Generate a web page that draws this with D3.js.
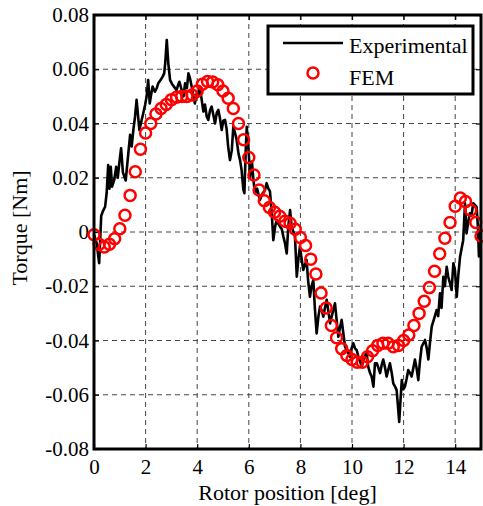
<!DOCTYPE html>
<html>
    <head>
        <meta charset="utf-8">
        <style>
            body { margin: 0; background: #fff; }
        </style>
    </head>
    <body>
        <svg width="483" height="506"></svg>
        <script src="https://d3js.org/d3.v7.min.js"></script>
        <script>
            // measured rotor torque (noisy trace)
            let expPos = [0.00, 0.10, 0.20, 0.28, 0.36, 0.43, 0.49, 0.55, 0.60, 0.65, 0.70, 0.78, 0.86, 0.92, 0.98,
                1.05, 1.12, 1.23, 1.33, 1.40, 1.46, 1.53, 1.59, 1.65, 1.76, 1.84, 1.91, 1.98, 2.04, 2.10, 2.16,
                2.22, 2.27, 2.36, 2.43, 2.49, 2.58, 2.66, 2.72, 2.76, 2.82, 2.88, 2.95, 3.03, 3.10, 3.20, 3.27,
                3.31, 3.40, 3.47, 3.53, 3.60, 3.66, 3.72, 3.80, 3.91, 3.98, 4.04, 4.10, 4.17, 4.24, 4.30, 4.37,
                4.43, 4.50, 4.56, 4.63, 4.69, 4.76, 4.82, 4.88, 4.95, 5.01, 5.08, 5.14, 5.20, 5.27, 5.34, 5.40,
                5.47, 5.53, 5.60, 5.66, 5.72, 5.79, 5.83, 5.88, 5.92, 5.98, 6.05, 6.12, 6.18, 6.24, 6.32, 6.43,
                6.52, 6.63, 6.69, 6.76, 6.82, 6.89, 6.95, 7.02, 7.08, 7.15, 7.21, 7.28, 7.34, 7.40, 7.47, 7.53,
                7.60, 7.66, 7.73, 7.79, 7.86, 7.92, 7.98, 8.05, 8.11, 8.18, 8.24, 8.30, 8.37, 8.43, 8.50, 8.56,
                8.63, 8.70, 8.76, 8.83, 8.89, 8.95, 9.02, 9.08, 9.15, 9.24, 9.34, 9.40, 9.47, 9.54, 9.60, 9.66,
                9.73, 9.82, 9.92, 9.98, 10.05, 10.12, 10.18, 10.25, 10.32, 10.38, 10.45, 10.51, 10.57, 10.63,
                10.70, 10.76, 10.83, 10.89, 10.96, 11.02, 11.09, 11.15, 11.21, 11.28, 11.34, 11.40, 11.47, 11.54,
                11.60, 11.67, 11.73, 11.78, 11.83, 11.88, 11.93, 11.99, 12.05, 12.12, 12.18, 12.25, 12.31, 12.38,
                12.44, 12.50, 12.57, 12.63, 12.70, 12.77, 12.83, 12.90, 12.96, 13.02, 13.09, 13.18, 13.28, 13.34,
                13.41, 13.47, 13.54, 13.60, 13.67, 13.73, 13.80, 13.86, 13.93, 13.99, 14.06, 14.12, 14.19, 14.25,
                14.31, 14.38, 14.44, 14.51, 14.57, 14.63, 14.70, 14.76, 14.83, 14.88, 14.92, 15.00];
            let expTorque = [-0.001, -0.004, -0.0115, 0.006, 0.008, 0.0093, 0.0143, 0.0247, 0.016, 0.024, 0.0167, 0.019, 0.024, 0.020, 0.0253,
                0.0309, 0.022, 0.019, 0.029, 0.0358, 0.0315, 0.038, 0.0425, 0.0487, 0.0376, 0.041, 0.0438, 0.0468, 0.050, 0.056, 0.0474,
                0.051, 0.0536, 0.0517, 0.053, 0.0548, 0.056, 0.0573, 0.0585, 0.0622, 0.0708, 0.0622, 0.056, 0.0545, 0.0536, 0.0523, 0.0545,
                0.0554, 0.0523, 0.050, 0.0548, 0.053, 0.0585, 0.0567, 0.053, 0.0474, 0.0511, 0.0499, 0.0536, 0.049, 0.0444, 0.047, 0.0425,
                0.0413, 0.045, 0.0462, 0.043, 0.040, 0.044, 0.045, 0.042, 0.0376, 0.041, 0.0413, 0.038, 0.0315, 0.0265, 0.030, 0.0388,
                0.0364, 0.0339, 0.029, 0.0265, 0.0229, 0.0155, 0.0143, 0.030, 0.0388, 0.032, 0.0204, 0.026, 0.019, 0.0143, 0.016, 0.0118,
                0.014, 0.0155, 0.018, 0.016, 0.015, 0.0069, -0.003, 0.002, 0.0044, 0.003, 0.002, 0.001, -0.0017, -0.004, -0.0079, 0.002,
                0.0081, 0.002, 0.000, -0.0017, -0.0165, -0.010, -0.0054, -0.010, -0.014, -0.012, -0.0103, -0.018, -0.0239, -0.020, -0.0177, -0.028,
                -0.0374, -0.031, -0.0275, -0.029, -0.0312, -0.028, -0.025, -0.029, -0.0337, -0.030, -0.0263, -0.032, -0.0386, -0.035, -0.0324, -0.037,
                -0.0423, -0.044, -0.046, -0.043, -0.041, -0.043, -0.0435, -0.046, -0.048, -0.0497, -0.047, -0.0455, -0.0447, -0.0497,
                -0.052, -0.0533, -0.057, -0.0484, -0.0484, -0.050, -0.052, -0.049, -0.047, -0.050, -0.0533, -0.051, -0.0484, -0.052,
                -0.0558, -0.057, -0.0583, -0.064, -0.070, -0.062, -0.0546, -0.058, -0.057, -0.054, -0.0509, -0.052, -0.0533, -0.050,
                -0.047, -0.050, -0.0546, -0.048, -0.0423, -0.041, -0.0398, -0.043, -0.047, -0.041, -0.0349, -0.032, -0.0288, -0.031,
                -0.0226, -0.028, -0.0165, -0.020, -0.0128, -0.0165, -0.019, -0.0214, -0.0115, -0.014, -0.0239, -0.016, -0.009, -0.006,
                -0.003, 0.0106, -0.0005, 0.004, 0.0069, 0.006, 0.0106, 0.010, 0.0093, 0.002, -0.009, 0.0007];

            // FEM result, one circle per sample
            let femPos = [0.0, 0.2, 0.4, 0.6, 0.8, 1.0, 1.2, 1.4, 1.6, 1.8, 2.0, 2.2, 2.4, 2.6, 2.8, 3.0, 3.2, 3.4, 3.6, 3.8,
                4.0, 4.2, 4.4, 4.6, 4.8, 5.0, 5.2, 5.4, 5.6, 5.8, 6.0, 6.2, 6.4, 6.6, 6.8, 7.0, 7.2, 7.4, 7.6, 7.8,
                8.0, 8.2, 8.4, 8.6, 8.8, 9.0, 9.2, 9.4, 9.6, 9.8, 10.0, 10.2, 10.4, 10.6, 10.8, 11.0, 11.2, 11.4, 11.6, 11.8,
                12.0, 12.2, 12.4, 12.6, 12.8, 13.0, 13.2, 13.4, 13.6, 13.8, 14.0, 14.2, 14.4, 14.6, 14.8, 15.0];
            let femTorque = [-0.001, -0.0045, -0.0055, -0.0045, -0.0025, 0.0012, 0.0062, 0.0135, 0.0222, 0.0305, 0.0365, 0.040, 0.0435, 0.0455, 0.047, 0.0488, 0.0497, 0.050, 0.050, 0.0505,
                0.052, 0.0545, 0.0555, 0.0553, 0.0543, 0.052, 0.0493, 0.0455, 0.040, 0.034, 0.0275, 0.021, 0.0155, 0.0115, 0.009, 0.0073, 0.0058, 0.004, 0.0032, 0.001,
                -0.002, -0.005, -0.010, -0.0155, -0.0225, -0.028, -0.0345, -0.039, -0.043, -0.0455, -0.047, -0.048, -0.048, -0.046, -0.0438, -0.0418, -0.041, -0.041, -0.0423, -0.0418,
                -0.040, -0.038, -0.0345, -0.030, -0.0255, -0.0205, -0.0145, -0.008, -0.0023, 0.0035, 0.0095, 0.0125, 0.0112, 0.008, 0.0035, -0.0015];

            let xTicks = [0, 2, 4, 6, 8, 10, 12, 14];
            let yTicks = [-0.08, -0.06, -0.04, -0.02, 0, 0.02, 0.04, 0.06, 0.08];

            let font = "'Liberation Serif', 'Times New Roman', serif";

            let svg = d3.select("svg"),
                margin = {top: 15, right: 2, bottom: 57, left: 94},
                width = +svg.attr("width") - margin.left - margin.right,
                height = +svg.attr("height") - margin.top - margin.bottom;

            svg.attr("font-family", font);

            let g = svg.append("g").attr("transform", `translate(${margin.left},${margin.top})`);

            let x = d3.scaleLinear().domain([0, 15]).range([0, width]);
            let y = d3.scaleLinear().domain([-0.08, 0.08]).range([height, 0]);

            // dashed grid
            g.append("g").selectAll("line").data(xTicks.slice(1)).enter().append("line")
                .attr("x1", d => x(d)).attr("x2", d => x(d))
                .attr("y1", 0).attr("y2", height)
                .attr("stroke", "#444").attr("stroke-dasharray", "5,4");
            g.append("g").selectAll("line").data(yTicks.slice(1, -1)).enter().append("line")
                .attr("x1", 0).attr("x2", width)
                .attr("y1", d => y(d)).attr("y2", d => y(d))
                .attr("stroke", "#444").attr("stroke-dasharray", "5,4");

            let fmtY = d => d === 0 ? "0" : d3.format(".2f")(d).replace("−", "-");

            let axes = [
                g.append("g").attr("transform", `translate(0,${height})`)
                    .call(d3.axisBottom(x).tickValues(xTicks).tickSize(-5).tickPadding(10)),
                g.append("g")
                    .call(d3.axisLeft(y).tickValues(yTicks).tickSize(-5).tickPadding(5).tickFormat(fmtY)),
                g.append("g")
                    .call(d3.axisTop(x).tickValues(xTicks).tickSize(-5).tickFormat("")),
                g.append("g").attr("transform", `translate(${width},0)`)
                    .call(d3.axisRight(y).tickValues(yTicks).tickSize(-5).tickFormat(""))
            ];
            axes.forEach(a => {
                a.attr("font-family", font).attr("font-size", 21);
                a.select(".domain").remove();
                a.selectAll(".tick line").attr("stroke", "#000").attr("stroke-width", 1.2);
                a.selectAll("text").attr("fill", "#000");
            });

            // experimental trace
            let line = d3.line().x(d => x(d[0])).y(d => y(d[1]));
            g.append("path")
                .datum(expPos.map((p, i) => [p, expTorque[i]]))
                .attr("d", line)
                .attr("fill", "none")
                .attr("stroke", "#000")
                .attr("stroke-width", 2.6)
                .attr("stroke-linejoin", "round");

            // FEM circles
            g.append("g").selectAll("circle")
                .data(femPos.map((p, i) => [p, femTorque[i]]))
                .enter().append("circle")
                .attr("cx", d => x(d[0]))
                .attr("cy", d => y(d[1]))
                .attr("r", 5.5)
                .attr("fill", "none")
                .attr("stroke", "#ff0000")
                .attr("stroke-width", 2.5);

            // frame
            g.append("rect")
                .attr("width", width).attr("height", height)
                .attr("fill", "none").attr("stroke", "#000").attr("stroke-width", 3);

            // legend
            let leg = svg.append("g");
            leg.append("rect")
                .attr("x", 268).attr("y", 26).attr("width", 205).attr("height", 68)
                .attr("fill", "#fff").attr("stroke", "#000").attr("stroke-width", 3);
            leg.append("line")
                .attr("x1", 283).attr("x2", 343).attr("y1", 43).attr("y2", 43)
                .attr("stroke", "#000").attr("stroke-width", 2.6);
            leg.append("text").attr("x", 349).attr("y", 53).attr("font-size", 22).text("Experimental");
            leg.append("circle")
                .attr("cx", 313).attr("cy", 73).attr("r", 5.5)
                .attr("fill", "none").attr("stroke", "#ff0000").attr("stroke-width", 2.5);
            leg.append("text").attr("x", 349).attr("y", 85).attr("font-size", 22).text("FEM");

            // axis titles
            svg.append("text")
                .attr("x", margin.left + width / 2).attr("y", 500)
                .attr("text-anchor", "middle").attr("font-size", 22)
                .text("Rotor position [deg]");
            svg.append("text")
                .attr("transform", `translate(27,${margin.top + height / 2 - 4}) rotate(-90)`)
                .attr("text-anchor", "middle").attr("font-size", 22)
                .text("Torque [Nm]");
        </script>
    </body>
</html>
